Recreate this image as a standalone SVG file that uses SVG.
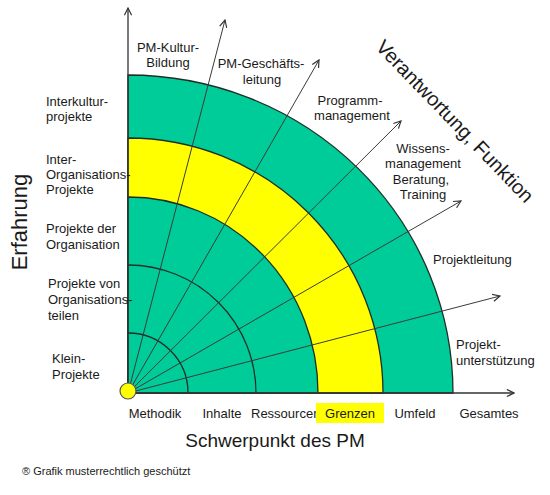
<svg xmlns="http://www.w3.org/2000/svg" width="550" height="495" viewBox="0 0 550 495">
<defs>
<marker id="arr" viewBox="0 0 10 10" refX="9" refY="5" markerWidth="9" markerHeight="9" markerUnits="userSpaceOnUse" orient="auto">
<path d="M1,1 L9,5 L1,9" fill="none" stroke="#333" stroke-width="1.3"/>
</marker>
<style>
text{font-family:"Liberation Sans",Arial,sans-serif;fill:#1a1a1a;font-size:13px}
.c{text-anchor:middle}
.arc{fill:none;stroke:#1f2f27;stroke-width:1.3}
.ray{stroke:#3a3a3a;stroke-width:1;marker-end:url(#arr)}
.axis{stroke:#333;stroke-width:1.3;marker-end:url(#arr)}
.g{fill:#00cc99;stroke:#1f2f27;stroke-width:1.3}
.y{fill:#ffff00;stroke:#1f2f27;stroke-width:1.3}
</style>
</defs>
<rect width="550" height="495" fill="#fff"/>
<g id="sectors">
<path class="g" d="M128,393 L453,393 A325,318 0 0,0 128,75 Z"/>
<path class="y" d="M128,393 L383,393 A255,255 0 0,0 128,138 Z"/>
<path class="g" d="M128,393 L318,393 A190,196 0 0,0 128,197 Z"/>
<path class="arc" d="M256,393 A128,128 0 0,0 128,265"/>
<path class="arc" d="M188,393 A60,60 0 0,0 128,333"/>
</g>
<g id="connectors">
<line class="axis" x1="128" y1="393" x2="128" y2="8"/>
<line class="axis" x1="128" y1="393" x2="514" y2="393"/>
<line class="ray" x1="128" y1="393" x2="225" y2="20"/>
<line class="ray" x1="128" y1="393" x2="319" y2="60"/>
<line class="ray" x1="128" y1="393" x2="401" y2="121"/>
<line class="ray" x1="128" y1="393" x2="461" y2="201"/>
<line class="ray" x1="128" y1="393" x2="500" y2="296"/>
</g>
<g id="origin"><circle cx="128" cy="391" r="8" fill="#ffff00" stroke="#555" stroke-width="1.2"/></g>
<g id="experience-labels">
<text x="46" y="106">Interkultur-</text>
<text x="46" y="121">projekte</text>
<text x="46" y="164">Inter-</text>
<text x="46" y="179">Organisations-</text>
<text x="46" y="194">Projekte</text>
<text x="46" y="233">Projekte der</text>
<text x="46" y="249">Organisation</text>
<text x="48" y="288">Projekte von</text>
<text x="48" y="304">Organisations-</text>
<text x="48" y="320">teilen</text>
<text x="52" y="363">Klein-</text>
<text x="52" y="379">Projekte</text>
</g>
<g id="function-labels">
<text class="c" x="168" y="52">PM-Kultur-</text>
<text class="c" x="168" y="67">Bildung</text>
<text class="c" x="261" y="68">PM-Geschäfts-</text>
<text class="c" x="262" y="84">leitung</text>
<text class="c" x="350" y="105">Programm-</text>
<text class="c" x="352" y="120">management</text>
<text class="c" x="423" y="153">Wissens-</text>
<text class="c" x="423" y="168">management</text>
<text class="c" x="421" y="184">Beratung,</text>
<text class="c" x="423" y="199">Training</text>
<text x="433" y="264">Projektleitung</text>
<text x="456" y="349">Projekt-</text>
<text x="456" y="365">unterstützung</text>
</g>
<g id="focus-labels">
<text class="c" x="155" y="418">Methodik</text>
<text class="c" x="222" y="418">Inhalte</text>
<text x="251" y="418">Ressourcen</text>
<rect x="316" y="403" width="68" height="20" fill="#ffff00"/>
<text class="c" x="350" y="418">Grenzen</text>
<text class="c" x="415" y="418">Umfeld</text>
<text class="c" x="489" y="418">Gesamtes</text>
</g>
<g id="axis-titles">
<text class="c" x="275" y="447" style="font-size:19px">Schwerpunkt des PM</text>
<text class="c" transform="translate(27,222) rotate(-90)" style="font-size:22px">Erfahrung</text>
<text class="c" transform="translate(450,126) rotate(46)" style="font-size:20px">Verantwortung, Funktion</text>
<text x="22" y="475" style="font-size:11px">® Grafik musterrechtlich geschützt</text>
</g>
</svg>
